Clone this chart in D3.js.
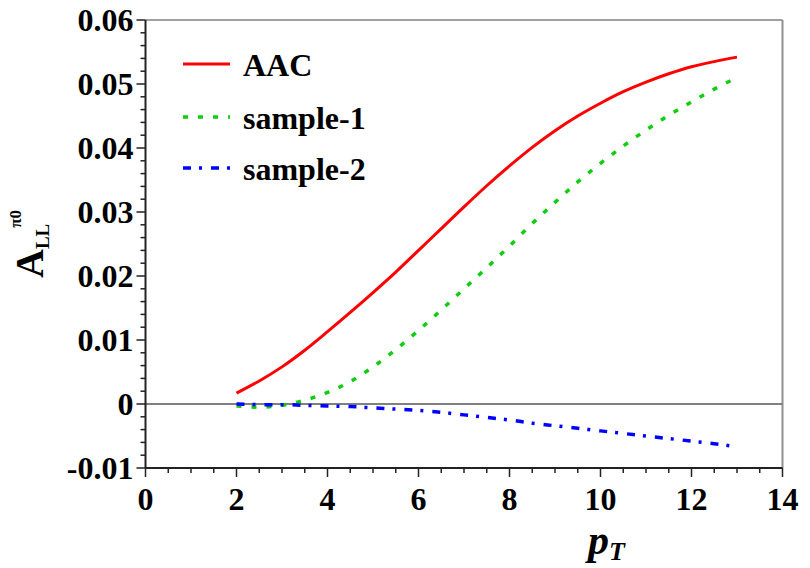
<!DOCTYPE html>
<meta charset="utf-8">
<style>
body { margin: 0; background: #fff; }
text { font-family: "Liberation Serif", "DejaVu Serif", serif; font-weight: bold; }
</style>
<body>
<svg width=810 height=568></svg>
</body>
<script src="https://cdnjs.cloudflare.com/ajax/libs/d3/7.8.5/d3.min.js"></script>
<script>
// pT grid and the three curves
const pT = [2, 2.5, 3, 3.5, 4, 4.5, 5, 5.5, 6, 6.5, 7, 7.5, 8, 8.5, 9, 9.5, 10, 10.5, 11, 11.5, 12, 12.5, 13]
const aac = [0.0017, 0.0036, 0.0058, 0.0084, 0.0113, 0.0143, 0.0174, 0.0206, 0.0240, 0.0274, 0.0308, 0.0341, 0.0372,
  0.0401, 0.0427, 0.0450, 0.0470, 0.0488, 0.0503, 0.0516, 0.0527, 0.0535, 0.0542]
const sample1 = [-0.0003, -0.0005, -0.0002, 0.0006, 0.0018, 0.0035, 0.0058, 0.0085, 0.0115, 0.0147, 0.0180, 0.0213, 0.0247,
  0.0282, 0.0315, 0.0347, 0.0376, 0.0403, 0.0428, 0.0451, 0.0472, 0.0492, 0.0510]
const sample2 = [0, -0.0001, -0.0001, -0.0002, -0.0003, -0.0004, -0.0006, -0.0008, -0.0010, -0.0013, -0.0017, -0.0021, -0.0025,
  -0.0030, -0.0034, -0.0038, -0.0042, -0.0046, -0.0050, -0.0054, -0.0058, -0.0062, -0.0067]
const seriesNames = ["AAC", "sample-1", "sample-2"]
const xTicks = [0, 2, 4, 6, 8, 10, 12, 14]
const yTicks = [-0.01, 0, 0.01, 0.02, 0.03, 0.04, 0.05, 0.06]

const svg = d3.select("svg")
const mLeft = 145.5, mRight = 782.5, mTop = 20, mBottom = 468

const x = d3.scaleLinear().domain([0, 14]).range([mLeft, mRight])
const y = d3.scaleLinear().domain([-0.01, 0.06]).range([mBottom, mTop])

const styles = [
  {color: "#ff0000", dash: null, width: 3},
  {color: "#11cc11", dash: "5,10", width: 3.5},
  {color: "#0000ff", dash: "8,8,3,9", width: 3.5}
]

// frame: top/right in gray
svg.append("line").attr("x1", mLeft).attr("x2", mRight).attr("y1", mTop).attr("y2", mTop)
  .attr("stroke", "#a0a0a0").attr("stroke-width", 2)
svg.append("line").attr("x1", mRight).attr("x2", mRight).attr("y1", mTop).attr("y2", mBottom)
  .attr("stroke", "#909090").attr("stroke-width", 2)

// zero line
svg.append("line").attr("x1", mLeft).attr("x2", mRight).attr("y1", y(0)).attr("y2", y(0))
  .attr("stroke", "#808080").attr("stroke-width", 2.2)

// minor ticks
const xMinor = d3.range(0, 14.01, 0.5)
svg.append("g").selectAll("line").data(xMinor).join("line")
  .attr("x1", d => x(d)).attr("x2", d => x(d))
  .attr("y1", mBottom).attr("y2", d => mBottom + (d % 2 === 0 ? 9 : 5))
  .attr("stroke", "#222").attr("stroke-width", 1.5)
const yMinor = d3.range(-0.01, 0.0601, 0.002)
svg.append("g").selectAll("line").data(yMinor).join("line")
  .attr("y1", d => y(d)).attr("y2", d => y(d))
  .attr("x1", mLeft).attr("x2", d => mLeft - (Math.abs(Math.round(d * 1000) % 10) === 0 ? 9 : 5))
  .attr("stroke", "#222").attr("stroke-width", 1.5)

// axes lines
svg.append("line").attr("x1", mLeft).attr("x2", mLeft).attr("y1", mTop).attr("y2", mBottom)
  .attr("stroke", "#222").attr("stroke-width", 2)
svg.append("line").attr("x1", mLeft).attr("x2", mRight).attr("y1", mBottom).attr("y2", mBottom)
  .attr("stroke", "#222").attr("stroke-width", 2)

// tick labels
svg.append("g").selectAll("text").data(yTicks).join("text")
  .attr("x", mLeft - 12).attr("y", d => y(d)).attr("dy", "0.34em")
  .attr("text-anchor", "end").attr("font-size", 32)
  .text(d => d === 0 ? "0" : d3.format(".2f")(d).replace("−", "-"))
svg.append("g").selectAll("text").data(xTicks).join("text")
  .attr("x", d => x(d)).attr("y", 510)
  .attr("text-anchor", "middle").attr("font-size", 32)
  .text(d => d)

// curves
const line = d3.line().x(d => x(d[0])).y(d => y(d[1])).curve(d3.curveMonotoneX)
const allSeries = [aac, sample1, sample2]
allSeries.forEach((vals, i) => {
  svg.append("path")
    .datum(pT.map((p, j) => [p, vals[j]]))
    .attr("fill", "none")
    .attr("stroke", styles[i].color)
    .attr("stroke-width", styles[i].width)
    .attr("stroke-dasharray", styles[i].dash)
    .attr("d", line)
})

// legend
const legY = [64, 117, 168]
const leg = svg.append("g").selectAll("g").data(seriesNames).join("g")
leg.append("line")
  .attr("x1", 183).attr("x2", 230).attr("y1", (d, i) => legY[i]).attr("y2", (d, i) => legY[i])
  .attr("stroke", (d, i) => styles[i].color)
  .attr("stroke-width", (d, i) => styles[i].width)
  .attr("stroke-dasharray", (d, i) => styles[i].dash)
leg.append("text")
  .attr("x", 243).attr("y", (d, i) => legY[i]).attr("dy", "0.36em")
  .attr("font-size", 32)
  .text(d => d)

// axis titles
const xt = svg.append("text").attr("x", 588).attr("y", 554).attr("font-size", 42).attr("font-style", "italic")
xt.append("tspan").text("p")
xt.append("tspan").attr("font-size", 26).attr("dy", 6).text("T")

const yt = svg.append("text").attr("transform", "translate(43,278) rotate(-90)").attr("font-size", 40)
yt.append("tspan").text("A")
yt.append("tspan").attr("font-size", 19).attr("dy", 6).text("LL")
yt.append("tspan").attr("font-size", 17).attr("dy", -28).attr("dx", -4).text("π0")
</script>
